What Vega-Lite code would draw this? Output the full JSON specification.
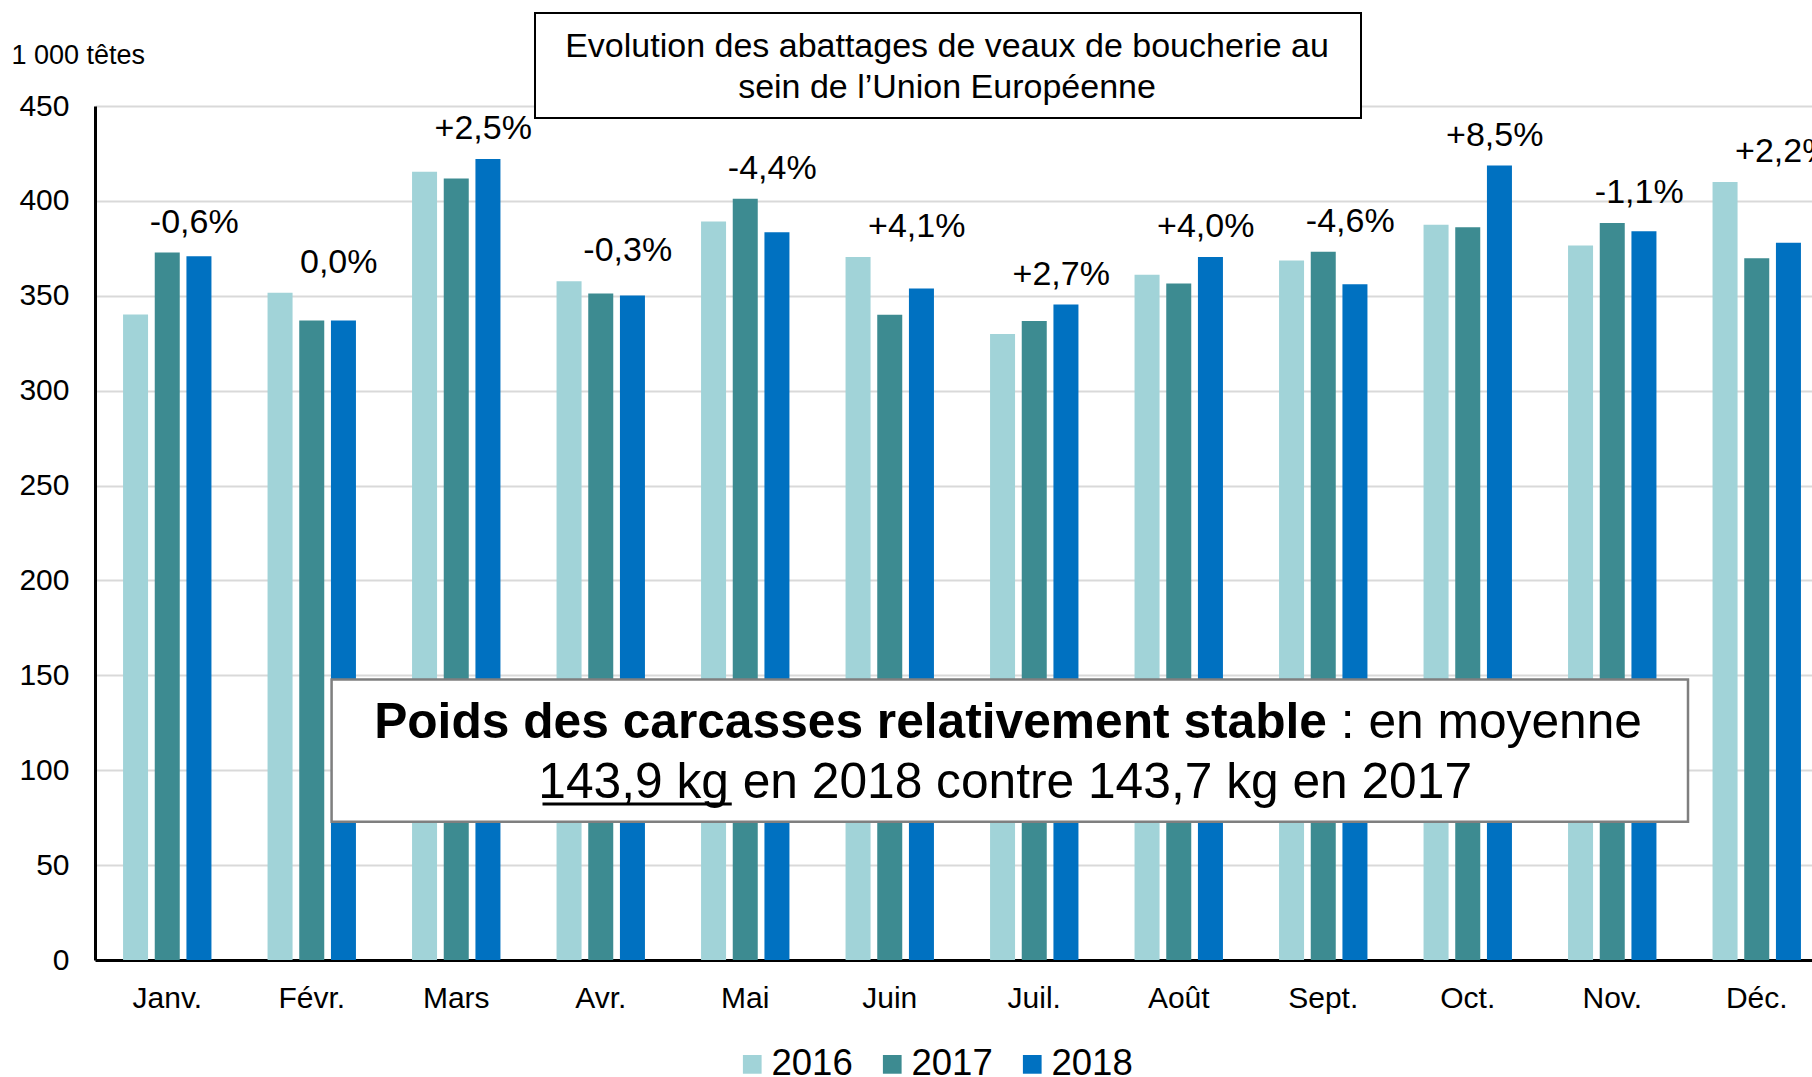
{
  "$schema": "https://vega.github.io/schema/vega-lite/v6.json",
  "width": 1717,
  "height": 854,
  "autosize": {"type": "none"},
  "padding": {"left": 95, "top": 106, "right": 0, "bottom": 117},
  "background": "#ffffff",
  "config": {"font": "Liberation Sans", "view": {"stroke": null}},
  "datasets": {
    "mois": [
      {"mois": "Janv.", "2016": 340.2, "2017": 372.8, "2018": 370.8, "evol": "-0,6%"},
      {"mois": "Févr.", "2016": 351.6, "2017": 337.0, "2018": 337.0, "evol": "0,0%"},
      {"mois": "Mars", "2016": 415.4, "2017": 411.8, "2018": 422.1, "evol": "+2,5%"},
      {"mois": "Avr.", "2016": 357.7, "2017": 351.2, "2018": 350.2, "evol": "-0,3%"},
      {"mois": "Mai", "2016": 389.1, "2017": 401.1, "2018": 383.5, "evol": "-4,4%"},
      {"mois": "Juin", "2016": 370.4, "2017": 340.0, "2018": 353.9, "evol": "+4,1%"},
      {"mois": "Juil.", "2016": 329.8, "2017": 336.7, "2018": 345.4, "evol": "+2,7%"},
      {"mois": "Août", "2016": 361.1, "2017": 356.5, "2018": 370.4, "evol": "+4,0%"},
      {"mois": "Sept.", "2016": 368.6, "2017": 373.2, "2018": 356.1, "evol": "-4,6%"},
      {"mois": "Oct.", "2016": 387.4, "2017": 386.1, "2018": 418.6, "evol": "+8,5%"},
      {"mois": "Nov.", "2016": 376.5, "2017": 388.4, "2018": 384.0, "evol": "-1,1%"},
      {"mois": "Déc.", "2016": 410.0, "2017": 369.8, "2018": 377.9, "evol": "+2,2%"}
    ]
  },
  "data": {"name": "mois"},
  "layer": [
    {
      "transform": [{"fold": ["2016", "2017", "2018"], "as": ["annee", "tetes"]}],
      "mark": {"type": "bar"},
      "encoding": {
        "x": {
          "field": "mois", "type": "nominal", "title": null,
          "scale": {
            "domain": ["Janv.", "Févr.", "Mars", "Avr.", "Mai", "Juin", "Juil.", "Août", "Sept.", "Oct.", "Nov.", "Déc."],
            "range": [0, 1734], "paddingInner": 0.342, "paddingOuter": 0.171
          },
          "axis": {
            "domainColor": "#000000", "domainWidth": 3, "ticks": false, "tickSize": 0,
            "labelFontSize": 30, "labelPadding": 47, "labelBaseline": "alphabetic",
            "labelAngle": 0, "labelColor": "#000000", "grid": false
          }
        },
        "xOffset": {
          "field": "annee", "type": "nominal",
          "scale": {"domain": ["2016", "2017", "2018"], "paddingInner": 0.211, "paddingOuter": 0.1055}
        },
        "y": {
          "field": "tetes", "type": "quantitative", "title": "1 000 têtes",
          "scale": {"domain": [0, 450], "nice": false},
          "axis": {
            "values": [0, 50, 100, 150, 200, 250, 300, 350, 400, 450],
            "grid": true, "gridColor": "#d9d9d9", "gridWidth": 2,
            "domainColor": "#000000", "domainWidth": 3, "ticks": false, "tickSize": 0,
            "labelFontSize": 30, "labelPadding": 26, "labelColor": "#000000",
            "titleAngle": 0, "titleAlign": "left", "titleBaseline": "alphabetic",
            "titleX": -84, "titleY": -43, "titleFontSize": 27, "titleFontWeight": "normal", "titleColor": "#000000"
          }
        },
        "color": {
          "field": "annee", "type": "nominal",
          "scale": {"domain": ["2016", "2017", "2018"], "range": ["#A1D3D8", "#3D8B91", "#0071C1"]},
          "legend": {
            "orient": "none", "legendX": 639, "legendY": 940, "direction": "horizontal",
            "title": null, "symbolType": "square", "symbolSize": 350, "symbolStrokeWidth": 0,
            "labelFontSize": 36.5, "labelOffset": 1, "columnPadding": 21, "labelColor": "#000000", "padding": 0
          }
        }
      }
    },
    {
      "transform": [
        {"fold": ["2016", "2017", "2018"], "as": ["annee", "tetes"]},
        {"joinaggregate": [{"op": "max", "field": "tetes", "as": "maxv"}], "groupby": ["mois"]},
        {"filter": "datum.annee === '2018'"}
      ],
      "mark": {"type": "text", "fontSize": 34, "dx": 27, "dy": -30, "baseline": "middle", "align": "center", "color": "#000000"},
      "encoding": {
        "x": {"field": "mois", "type": "nominal", "title": null},
        "y": {"field": "maxv", "type": "quantitative", "title": "1 000 têtes"},
        "text": {"field": "evol"}
      }
    },
    {
      "data": {"values": [{"t": "cadre titre"}]},
      "mark": {"type": "rect", "fill": "#ffffff", "stroke": "#000000", "strokeWidth": 2, "xOffset": 78.75, "x2Offset": 37.75},
      "encoding": {
        "x": {"datum": "Mars", "type": "nominal"},
        "x2": {"datum": "Sept."},
        "y": {"datum": 499, "type": "quantitative"},
        "y2": {"datum": 443.7}
      }
    },
    {
      "data": {"values": [{"t": "Evolution des abattages de veaux de boucherie au\nsein de l’Union Européenne"}]},
      "mark": {"type": "text", "fontSize": 34, "align": "center", "baseline": "alphabetic", "lineBreak": "\n", "lineHeight": 41, "dx": 57.25, "color": "#000000"},
      "encoding": {
        "x": {"datum": "Juin", "type": "nominal"},
        "y": {"datum": 475.8, "type": "quantitative"},
        "text": {"field": "t"}
      }
    },
    {
      "data": {"values": [{"t": "cadre note"}]},
      "mark": {"type": "rect", "fill": "#ffffff", "stroke": "#7f7f7f", "strokeWidth": 2.5, "xOffset": 19.85, "x2Offset": -68.75},
      "encoding": {
        "x": {"datum": "Févr.", "type": "nominal"},
        "x2": {"datum": "Déc."},
        "y": {"datum": 147.8, "type": "quantitative"},
        "y2": {"datum": 72.9}
      }
    },
    {
      "data": {"values": [{"t": "Poids des carcasses relativement stable"}]},
      "mark": {"type": "text", "fontSize": 49.7, "fontWeight": "bold", "align": "right", "baseline": "alphabetic", "dx": 3.75, "color": "#000000"},
      "encoding": {
        "x": {"datum": "Sept.", "type": "nominal"},
        "y": {"datum": 117.0, "type": "quantitative"},
        "text": {"field": "t"}
      }
    },
    {
      "data": {"values": [{"t": ": en moyenne"}]},
      "mark": {"type": "text", "fontSize": 49.7, "align": "left", "baseline": "alphabetic", "dx": 17.6, "color": "#000000"},
      "encoding": {
        "x": {"datum": "Sept.", "type": "nominal"},
        "y": {"datum": 117.0, "type": "quantitative"},
        "text": {"field": "t"}
      }
    },
    {
      "data": {"values": [{"t": "143,9 kg en 2018 contre 143,7 kg en 2017"}]},
      "mark": {"type": "text", "fontSize": 49.7, "align": "left", "baseline": "alphabetic", "dx": -62.5, "color": "#000000"},
      "encoding": {
        "x": {"datum": "Avr.", "type": "nominal"},
        "y": {"datum": 85.2, "type": "quantitative"},
        "text": {"field": "t"}
      }
    },
    {
      "data": {"values": [{"t": "soulignement"}]},
      "mark": {"type": "rule", "color": "#000000", "strokeWidth": 3, "xOffset": -58.25, "x2Offset": 131},
      "encoding": {
        "x": {"datum": "Avr.", "type": "nominal"},
        "x2": {"datum": "Avr."},
        "y": {"datum": 82.2, "type": "quantitative"}
      }
    }
  ]
}
